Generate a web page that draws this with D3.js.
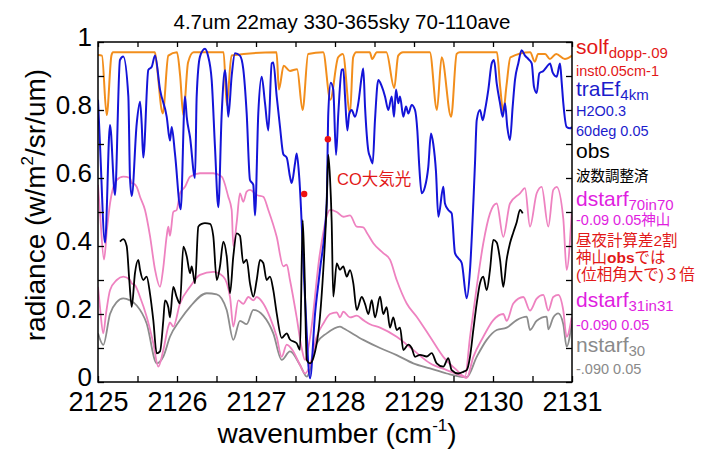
<!DOCTYPE html>
<html><head><meta charset="utf-8">
<script src="https://cdn.jsdelivr.net/npm/d3@7"></script>
<style>body{margin:0;background:#fff}svg{display:block}</style>
</head><body><svg id="c" width="701" height="449"></svg>
<script>
const titleText = "4.7um 22may 330-365sky 70-110ave";
const xTickLabels = [2125,2126,2127,2128,2129,2130,2131];
const yTickLabels = [0,0.2,0.4,0.6,0.8,1];

const solf = [[2125.00,0.962],[2125.05,0.96],[2125.11,0.785],[2125.17,0.96],[2125.19,0.97],[2125.72,0.97],[2125.74,0.94],[2125.82,0.79],[2125.89,0.96],[2126.00,0.97],[2126.04,0.90],[2126.08,0.785],[2126.14,0.94],[2126.21,0.97],[2126.59,0.97],[2126.63,0.815],[2126.69,0.96],[2127.26,0.97],[2127.29,0.86],[2127.35,0.93],[2127.43,0.915],[2127.52,0.92],[2127.59,0.80],[2127.66,0.965],[2127.85,0.97],[2127.94,0.83],[2128.04,0.955],[2128.10,0.965],[2128.19,0.79],[2128.23,0.955],[2128.27,0.97],[2128.44,0.97],[2128.47,0.95],[2128.53,0.97],[2128.65,0.97],[2128.75,0.865],[2128.80,0.96],[2128.86,0.97],[2129.20,0.97],[2129.29,0.80],[2129.35,0.955],[2129.47,0.78],[2129.54,0.965],[2129.58,0.97],[2130.05,0.97],[2130.09,0.87],[2130.13,0.795],[2130.17,0.87],[2130.22,0.955],[2130.47,0.97],[2130.53,0.942],[2130.57,0.965],[2130.66,0.965],[2130.72,0.95],[2130.80,0.965],[2130.91,0.95],[2131.00,0.96]];

const traEf = [[2125.000,0.83],[2125.025,0.70],[2125.089,0.41],[2125.152,0.756],[2125.215,0.55],[2125.278,0.947],[2125.320,0.957],[2125.384,0.84],[2125.405,0.60],[2125.427,0.547],[2125.490,0.76],[2125.532,0.824],[2125.553,0.76],[2125.573,0.66],[2125.637,0.918],[2125.680,0.927],[2125.722,0.96],[2125.785,0.86],[2125.870,0.78],[2125.911,0.71],[2125.933,0.75],[2125.975,0.67],[2126.047,0.508],[2126.101,0.84],[2126.123,0.78],[2126.165,0.72],[2126.228,0.60],[2126.249,0.84],[2126.291,0.957],[2126.354,0.98],[2126.392,0.96],[2126.439,0.888],[2126.481,0.69],[2126.523,0.514],[2126.566,0.79],[2126.608,0.918],[2126.629,0.86],[2126.649,0.78],[2126.692,0.90],[2126.734,0.967],[2126.797,0.96],[2126.839,0.92],[2126.882,0.79],[2126.924,0.594],[2126.966,0.58],[2126.987,0.49],[2127.029,0.79],[2127.072,0.898],[2127.114,0.82],[2127.156,0.74],[2127.199,0.937],[2127.219,0.94],[2127.262,0.84],[2127.304,0.75],[2127.346,0.67],[2127.389,0.66],[2127.430,0.604],[2127.452,0.585],[2127.494,0.643],[2127.515,0.672],[2127.548,0.60],[2127.620,0.25],[2127.684,0.011],[2127.747,0.20],[2127.810,0.33],[2127.895,0.525],[2127.915,0.79],[2127.946,0.88],[2127.978,0.86],[2128.013,0.668],[2128.042,0.79],[2128.085,0.918],[2128.105,0.92],[2128.127,0.84],[2128.156,0.74],[2128.181,0.79],[2128.211,0.80],[2128.253,0.78],[2128.295,0.82],[2128.338,0.898],[2128.358,0.922],[2128.380,0.81],[2128.422,0.68],[2128.443,0.663],[2128.477,0.643],[2128.506,0.77],[2128.548,0.888],[2128.591,0.87],[2128.633,0.84],[2128.675,0.80],[2128.718,0.84],[2128.747,0.78],[2128.772,0.86],[2128.801,0.82],[2128.823,0.84],[2128.865,0.78],[2128.899,0.81],[2128.928,0.79],[2128.971,0.815],[2129.013,0.80],[2129.042,0.74],[2129.067,0.633],[2129.097,0.555],[2129.139,0.574],[2129.181,0.633],[2129.215,0.731],[2129.244,0.70],[2129.278,0.62],[2129.308,0.486],[2129.371,0.574],[2129.392,0.525],[2129.434,0.506],[2129.477,0.496],[2129.519,0.379],[2129.561,0.364],[2129.604,0.35],[2129.667,0.246],[2129.709,0.33],[2129.751,0.526],[2129.772,0.643],[2129.794,0.77],[2129.835,0.80],[2129.870,0.77],[2129.899,0.80],[2129.941,0.86],[2129.984,0.937],[2130.013,0.947],[2130.047,0.878],[2130.089,0.82],[2130.123,0.78],[2130.152,0.82],[2130.181,0.75],[2130.215,0.712],[2130.249,0.81],[2130.278,0.888],[2130.320,0.937],[2130.363,0.976],[2130.405,0.96],[2130.447,0.95],[2130.490,0.937],[2130.519,0.868],[2130.553,0.85],[2130.586,0.908],[2130.637,0.915],[2130.680,0.927],[2130.722,0.937],[2130.756,0.91],[2130.806,0.898],[2130.848,0.937],[2130.870,0.88],[2130.890,0.82],[2130.932,0.75],[2130.975,0.746],[2131.000,0.75]];

const dstarf70 = [[2125.000,0.58],[2125.025,0.50],[2125.076,0.36],[2125.114,0.45],[2125.152,0.525],[2125.237,0.594],[2125.320,0.604],[2125.405,0.60],[2125.427,0.585],[2125.447,0.584],[2125.490,0.574],[2125.532,0.545],[2125.595,0.506],[2125.658,0.43],[2125.722,0.33],[2125.785,0.28],[2125.823,0.33],[2125.870,0.43],[2125.890,0.457],[2125.911,0.43],[2125.953,0.50],[2125.996,0.506],[2126.038,0.555],[2126.101,0.574],[2126.165,0.604],[2126.291,0.614],[2126.459,0.614],[2126.566,0.604],[2126.649,0.545],[2126.692,0.506],[2126.713,0.40],[2126.756,0.47],[2126.797,0.555],[2126.839,0.53],[2126.882,0.56],[2126.924,0.565],[2127.009,0.55],[2127.092,0.545],[2127.156,0.506],[2127.262,0.427],[2127.346,0.34],[2127.389,0.345],[2127.430,0.30],[2127.515,0.19],[2127.578,0.10],[2127.620,0.065],[2127.684,0.13],[2127.810,0.38],[2127.937,0.506],[2128.022,0.50],[2128.105,0.486],[2128.190,0.49],[2128.275,0.457],[2128.358,0.455],[2128.401,0.44],[2128.485,0.408],[2128.611,0.379],[2128.696,0.36],[2128.781,0.30],[2128.908,0.231],[2129.034,0.192],[2129.203,0.133],[2129.371,0.074],[2129.541,0.035],[2129.646,0.016],[2129.709,0.133],[2129.794,0.28],[2129.877,0.408],[2129.962,0.496],[2130.047,0.525],[2130.130,0.427],[2130.215,0.525],[2130.342,0.555],[2130.405,0.57],[2130.468,0.457],[2130.553,0.555],[2130.616,0.574],[2130.700,0.457],[2130.763,0.565],[2130.806,0.574],[2130.890,0.48],[2130.932,0.33],[2130.996,0.496]];

const dstarf31 = [[2125.000,0.28],[2125.025,0.22],[2125.067,0.143],[2125.101,0.20],[2125.152,0.27],[2125.237,0.30],[2125.320,0.31],[2125.405,0.30],[2125.427,0.29],[2125.468,0.285],[2125.532,0.25],[2125.616,0.192],[2125.700,0.114],[2125.763,0.045],[2125.827,0.094],[2125.890,0.163],[2125.911,0.175],[2125.953,0.163],[2126.038,0.231],[2126.165,0.28],[2126.291,0.315],[2126.459,0.324],[2126.586,0.31],[2126.671,0.25],[2126.713,0.163],[2126.776,0.24],[2126.839,0.23],[2126.903,0.25],[2126.966,0.24],[2127.009,0.25],[2127.092,0.231],[2127.177,0.19],[2127.262,0.133],[2127.325,0.074],[2127.389,0.11],[2127.472,0.09],[2127.557,0.05],[2127.620,0.025],[2127.684,0.05],[2127.768,0.133],[2127.852,0.172],[2127.937,0.20],[2128.022,0.205],[2128.063,0.19],[2128.105,0.207],[2128.190,0.19],[2128.275,0.195],[2128.358,0.182],[2128.443,0.17],[2128.570,0.16],[2128.781,0.133],[2128.991,0.094],[2129.203,0.055],[2129.414,0.035],[2129.624,0.016],[2129.667,0.012],[2129.751,0.074],[2129.877,0.133],[2130.004,0.182],[2130.130,0.20],[2130.173,0.18],[2130.257,0.231],[2130.384,0.25],[2130.468,0.21],[2130.553,0.245],[2130.637,0.256],[2130.700,0.21],[2130.763,0.25],[2130.827,0.256],[2130.890,0.21],[2130.932,0.133],[2130.996,0.19]];

const nstarf30 = [[2125.000,0.143],[2125.067,0.109],[2125.152,0.20],[2125.237,0.235],[2125.320,0.246],[2125.405,0.24],[2125.490,0.225],[2125.616,0.172],[2125.743,0.055],[2125.827,0.075],[2125.911,0.133],[2126.038,0.182],[2126.165,0.221],[2126.376,0.261],[2126.503,0.258],[2126.629,0.212],[2126.713,0.124],[2126.797,0.18],[2126.882,0.17],[2126.966,0.212],[2127.092,0.195],[2127.219,0.143],[2127.325,0.065],[2127.430,0.09],[2127.557,0.05],[2127.642,0.016],[2127.768,0.114],[2127.895,0.143],[2128.063,0.163],[2128.105,0.158],[2128.358,0.124],[2128.570,0.10],[2128.781,0.079],[2128.991,0.055],[2129.203,0.04],[2129.414,0.025],[2129.667,0.014],[2129.794,0.074],[2129.920,0.124],[2130.047,0.153],[2130.173,0.16],[2130.300,0.182],[2130.427,0.192],[2130.468,0.153],[2130.553,0.18],[2130.680,0.192],[2130.700,0.155],[2130.763,0.19],[2130.827,0.202],[2130.890,0.17],[2130.932,0.104],[2130.996,0.172]];

const obs = [[2125.278,0.413],[2125.320,0.42],[2125.363,0.40],[2125.396,0.30],[2125.427,0.221],[2125.468,0.32],[2125.510,0.359],[2125.532,0.33],[2125.573,0.30],[2125.616,0.31],[2125.658,0.26],[2125.700,0.182],[2125.743,0.084],[2125.785,0.09],[2125.827,0.182],[2125.848,0.24],[2125.890,0.22],[2125.911,0.19],[2125.953,0.28],[2125.996,0.25],[2126.038,0.231],[2126.080,0.398],[2126.123,0.37],[2126.165,0.32],[2126.186,0.34],[2126.228,0.29],[2126.270,0.457],[2126.313,0.465],[2126.354,0.467],[2126.418,0.465],[2126.459,0.43],[2126.503,0.30],[2126.544,0.34],[2126.586,0.413],[2126.629,0.37],[2126.671,0.261],[2126.713,0.37],[2126.756,0.437],[2126.797,0.43],[2126.839,0.35],[2126.882,0.36],[2126.924,0.29],[2126.966,0.251],[2127.009,0.30],[2127.051,0.359],[2127.092,0.35],[2127.135,0.30],[2127.177,0.31],[2127.219,0.27],[2127.262,0.202],[2127.325,0.13],[2127.389,0.143],[2127.430,0.125],[2127.515,0.114],[2127.557,0.095],[2127.591,0.476],[2127.614,0.33],[2127.642,0.065],[2127.684,0.055],[2127.725,0.07],[2127.810,0.192],[2127.852,0.33],[2127.895,0.526],[2127.915,0.668],[2127.937,0.60],[2127.958,0.47],[2127.978,0.251],[2128.022,0.349],[2128.063,0.33],[2128.105,0.34],[2128.148,0.31],[2128.190,0.329],[2128.232,0.29],[2128.275,0.212],[2128.338,0.25],[2128.380,0.23],[2128.422,0.20],[2128.465,0.241],[2128.506,0.19],[2128.570,0.251],[2128.611,0.20],[2128.654,0.22],[2128.696,0.16],[2128.738,0.19],[2128.781,0.153],[2128.823,0.16],[2128.865,0.094],[2128.928,0.11],[2128.971,0.10],[2129.013,0.074],[2129.076,0.08],[2129.161,0.075],[2129.224,0.085],[2129.287,0.055],[2129.371,0.045],[2129.434,0.07],[2129.477,0.035],[2129.561,0.025],[2129.624,0.03],[2129.667,0.035],[2129.709,0.074],[2129.751,0.153],[2129.794,0.231],[2129.835,0.29],[2129.877,0.31],[2129.920,0.27],[2129.962,0.33],[2130.004,0.418],[2130.047,0.41],[2130.089,0.36],[2130.130,0.28],[2130.173,0.36],[2130.215,0.408],[2130.257,0.44],[2130.300,0.47],[2130.342,0.506],[2130.376,0.496]];

const coDots = [[2127.61,0.553],[2127.91,0.714]];

const FONT = "'Liberation Sans', Arial, 'Noto Sans CJK JP', sans-serif";
const m = {l:98, r:572, t:42, b:382};
const svg = d3.select("#c").attr("font-family", FONT);
const x = d3.scaleLinear().domain([2125,2131]).range([m.l,m.r]);
const y = d3.scaleLinear().domain([0,1]).range([m.b,m.t]);

svg.append("defs").append("clipPath").attr("id","pc")
  .append("rect").attr("x",m.l).attr("y",m.t).attr("width",m.r-m.l).attr("height",m.b-m.t);

const line = d3.line().x(d=>x(d[0])).y(d=>y(d[1])).curve(d3.curveMonotoneX);
const plot = svg.append("g").attr("clip-path","url(#pc)");
const series = [
  {d:nstarf30, c:"#8c8c8c", w:1.8},
  {d:dstarf31, c:"#ee82c0", w:1.8},
  {d:dstarf70, c:"#ee82c0", w:1.8},
  {d:solf, c:"#f28e1c", w:2},
  {d:traEf, c:"#1414d8", w:2},
  {d:obs, c:"#000000", w:1.8}
];
series.forEach(s=>{
  plot.append("path").datum(s.d).attr("fill","none").attr("stroke",s.c)
    .attr("stroke-width",s.w).attr("stroke-linejoin","round").attr("d",line);
});
plot.selectAll("circle.co").data(coDots).join("circle")
  .attr("cx",d=>x(d[0])).attr("cy",d=>y(d[1])).attr("r",3.2).attr("fill","#ee1111");

// axes ticks (inward)
const halfTicks = d3.range(2125,2131.01,0.5);
const tenthTicks = d3.range(0,1.001,0.1);
function clean(g){ g.select(".domain").remove(); g.selectAll("line").attr("stroke","#000").attr("stroke-width",1.3); }
svg.append("g").attr("transform",`translate(0,${m.b})`)
  .call(d3.axisBottom(x).tickValues(halfTicks).tickSizeInner(-6).tickSizeOuter(0).tickFormat("")).call(clean);
svg.append("g").attr("transform",`translate(0,${m.t})`)
  .call(d3.axisTop(x).tickValues(halfTicks).tickSizeInner(-5).tickSizeOuter(0).tickFormat("")).call(clean);
svg.append("g").attr("transform",`translate(${m.l},0)`)
  .call(d3.axisLeft(y).tickValues(tenthTicks).tickSizeInner(-6).tickSizeOuter(0).tickFormat("")).call(clean);
svg.append("g").attr("transform",`translate(${m.r},0)`)
  .call(d3.axisRight(y).tickValues(tenthTicks).tickSizeInner(-6).tickSizeOuter(0).tickFormat("")).call(clean);

// tick labels
const xl = svg.append("g").attr("transform",`translate(0,${m.b})`)
  .call(d3.axisBottom(x).tickValues(xTickLabels).tickSize(0).tickPadding(10).tickFormat(d3.format("d")));
xl.select(".domain").remove();
xl.selectAll("text").attr("font-size",27).attr("font-family",FONT).attr("fill","#000");
const yl = svg.append("g").attr("transform",`translate(${m.l},-5)`)
  .call(d3.axisLeft(y).tickValues(yTickLabels).tickSize(0).tickPadding(6).tickFormat(d=>d===0?"0":d===1?"1":d3.format(".1f")(d)));
yl.select(".domain").remove();
yl.selectAll("text").attr("font-size",26).attr("font-family",FONT).attr("fill","#000");

// frame
svg.append("rect").attr("x",m.l).attr("y",m.t).attr("width",m.r-m.l).attr("height",m.b-m.t)
  .attr("fill","none").attr("stroke","#000").attr("stroke-width",1.5);

// title
svg.append("text").attr("x",342).attr("y",29).attr("text-anchor","middle")
  .attr("font-size",20.5).text(titleText);

// axis titles
const xt = svg.append("text").attr("x",337).attr("y",443).attr("text-anchor","middle").attr("font-size",28);
xt.append("tspan").text("wavenumber (cm");
xt.append("tspan").attr("font-size",17).attr("dy",-12).text("-1");
xt.append("tspan").attr("dy",12).text(")");
const yt = svg.append("text").attr("transform","translate(45,205) rotate(-90)").attr("text-anchor","middle").attr("font-size",28);
yt.append("tspan").text("radiance (w/m");
yt.append("tspan").attr("font-size",17).attr("dy",-12).text("2");
yt.append("tspan").attr("dy",12).text("/sr/um)");

// CO label
svg.append("text").attr("x",337).attr("y",185).attr("font-size",16.5).attr("fill","#e21818").text("CO大気光");

// legend
const LX = 576;
const legend = [
  {y:54, main:"solf", sub:"dopp-.09", c:"#e21818"},
  {y:76, small:"inst0.05cm-1", c:"#e21818"},
  {y:96, main:"traEf", sub:"4km", c:"#1c1ccc"},
  {y:116, small:"H2O0.3", c:"#1c1ccc"},
  {y:136, small:"60deg 0.05", c:"#1c1ccc"},
  {y:158, main:"obs", sub:"", c:"#000"},
  {y:181, small:"波数調整済", c:"#000"},
  {y:206, main:"dstarf", sub:"70in70", c:"#e01ee0"},
  {y:225, small:"-0.09 0.05神山", c:"#e01ee0"},
  {y:246, jp:["昼夜計算差2割"], c:"#e21818"},
  {y:263, jp:["神山","obs","では"], c:"#e21818"},
  {y:280, jp:["(位相角大で)３倍"], c:"#e21818"},
  {y:307, main:"dstarf", sub:"31in31", c:"#e01ee0"},
  {y:330, small:"-0.090 0.05", c:"#e01ee0"},
  {y:352, main:"nstarf", sub:"30", c:"#8a8a8a"},
  {y:374, small:"-.090 0.05", c:"#8a8a8a"}
];
legend.forEach(e=>{
  const t = svg.append("text").attr("x",LX).attr("y",e.y).attr("fill",e.c);
  if(e.main!==undefined){
    t.attr("font-size",21);
    t.append("tspan").text(e.main);
    if(e.sub) t.append("tspan").attr("font-size",15).attr("dy",4).text(e.sub);
  } else if(e.small!==undefined){
    t.attr("font-size",14.5).text(e.small);
  } else {
    t.attr("font-size",15.5);
    e.jp.forEach(s=>{ const ts=t.append("tspan").text(s); if(s==="obs") ts.attr("font-weight","bold"); });
  }
});
</script></body></html>
